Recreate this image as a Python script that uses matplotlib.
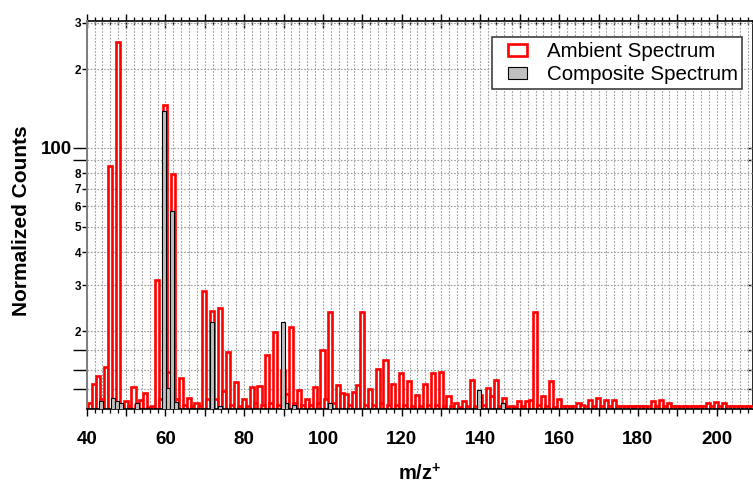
import numpy as np
import matplotlib
matplotlib.use('Agg')
import matplotlib.pyplot as plt
from matplotlib.ticker import FixedLocator, FixedFormatter, NullFormatter
from matplotlib.patches import Rectangle

plt.rcParams['font.family'] = ['Liberation Sans', 'DejaVu Sans']
plt.rcParams['font.weight'] = 'bold'
plt.rcParams['mathtext.fontset'] = 'custom'
plt.rcParams['mathtext.rm'] = 'Liberation Sans'
plt.rcParams['mathtext.bf'] = 'Liberation Sans:bold'

# ---------------- data ----------------
mz = list(range(40, 210))

ambient = [
    10.5, 10.6, 12.6, 13.5, 11.0, 14.6, 85.4, 10.8, 253.0, 10.5,   # 40-49
    10.8, 10.4, 12.3, 10.5, 10.9, 11.6, 10.3, 10.4, 31.4, 11.0,    # 50-59
    145.5, 14.0, 79.6, 11.0, 13.3, 10.5, 11.1, 10.4, 10.6, 10.4,   # 60-69
    28.5, 11.0, 23.9, 11.0, 24.5, 11.8, 16.6, 10.5, 12.8, 10.4,    # 70-79
    11.0, 10.4, 12.3, 10.6, 12.4, 10.5, 16.2, 10.6, 19.8, 10.5,    # 80-89
    14.2, 11.5, 20.7, 10.6, 11.9, 10.5, 11.0, 10.5, 12.2, 10.6,    # 90-99
    16.9, 11.0, 23.6, 10.6, 12.5, 11.6, 11.5, 10.5, 11.7, 12.5,    # 100-109
    23.6, 10.5, 12.0, 10.5, 14.4, 10.6, 15.5, 10.5, 12.6, 10.5,    # 110-119
    13.9, 10.5, 12.9, 10.4, 11.4, 10.4, 12.6, 10.5, 13.9, 10.5,    # 120-129
    14.0, 10.4, 11.3, 10.4, 10.6, 10.3, 10.8, 10.4, 13.0, 10.4,    # 130-139
    11.4, 10.5, 12.1, 11.3, 13.0, 10.4, 11.1, 10.3, 10.4, 10.3,    # 140-149
    10.8, 10.4, 10.8, 10.9, 23.6, 10.5, 11.3, 10.4, 12.9, 10.3,    # 150-159
    11.0, 10.4, 10.4, 10.4, 10.4, 10.6, 10.5, 10.4, 10.9, 10.4,    # 160-169
    11.1, 10.4, 10.9, 10.4, 10.9, 10.4, 10.4, 10.4, 10.4, 10.4,    # 170-179
    10.4, 10.4, 10.4, 10.4, 10.8, 10.4, 10.9, 10.4, 10.6, 10.4,    # 180-189
    10.4, 10.4, 10.4, 10.4, 10.4, 10.4, 10.4, 10.4, 10.6, 10.4,    # 190-199
    10.7, 10.4, 10.6, 10.4, 10.4, 10.4, 10.4, 10.4, 10.4, 10.4,    # 200-209
]

composite = [
    10.0, 10.0, 10.0, 10.0, 10.8, 10.0, 10.0, 11.1, 10.8, 10.6,    # 40-49
    10.0, 10.0, 10.0, 10.6, 10.0, 10.0, 10.0, 10.0, 10.0, 10.0,    # 50-59
    138.0, 12.1, 57.5, 10.7, 10.0, 10.0, 10.0, 10.0, 10.0, 10.0,   # 60-69
    10.0, 10.0, 21.7, 10.0, 10.4, 10.0, 10.0, 10.0, 10.0, 10.0,    # 70-79
    10.0, 10.0, 10.0, 10.0, 10.0, 10.0, 10.0, 10.0, 10.0, 10.0,    # 80-89
    21.7, 10.6, 10.0, 10.5, 10.0, 10.0, 10.0, 10.0, 10.0, 10.0,    # 90-99
    10.0, 10.0, 10.6, 10.0, 10.0, 10.0, 10.0, 10.0, 10.0, 10.0,    # 100-109
    10.0, 10.0, 10.0, 10.0, 10.0, 10.0, 10.0, 10.0, 10.0, 10.0,    # 110-119
    10.0, 10.0, 10.0, 10.0, 10.0, 10.0, 10.0, 10.0, 10.0, 10.0,    # 120-129
    10.0, 10.0, 10.0, 10.0, 10.0, 10.0, 10.0, 10.0, 10.0, 10.0,    # 130-139
    11.9, 10.0, 10.0, 10.0, 10.0, 10.0, 10.6, 10.0, 10.0, 10.0,    # 140-149
    10.0, 10.0, 10.0, 10.0, 10.0, 10.0, 10.0, 10.0, 10.0, 10.0,    # 150-159
    10.0, 10.0, 10.0, 10.0, 10.0, 10.0, 10.0, 10.0, 10.0, 10.0,    # 160-169
    10.0, 10.0, 10.0, 10.0, 10.0, 10.0, 10.0, 10.0, 10.0, 10.0,    # 170-179
    10.0, 10.0, 10.0, 10.0, 10.0, 10.0, 10.0, 10.0, 10.0, 10.0,    # 180-189
    10.0, 10.0, 10.0, 10.0, 10.0, 10.0, 10.0, 10.0, 10.0, 10.0,    # 190-199
    10.0, 10.0, 10.0, 10.0, 10.0, 10.0, 10.0, 10.0, 10.0, 10.0,    # 200-209
]

x_major = [40, 50, 60, 70, 80, 90, 100, 110, 120, 130, 140, 150, 160, 170, 180, 190, 200]
x_major_labels = ['40', '', '60', '', '80', '', '100', '', '120', '', '140', '',
                  '160', '', '180', '', '200']
x_minor = list(range(40, 210, 2))

y_major = [12.0, 14.2, 16.9, 90, 100]
y_major_labels = ['', '', '', '', '100']
y_minor = [20, 30, 40, 50, 60, 70, 80, 200, 300]
y_minor_labels = ['2', '3', '4', '5', '6', '7', '8', '2', '3']

# ---------------- figure ----------------
W, H = 753, 483
fig = plt.figure(figsize=(W / 100, H / 100), dpi=100)
L, R, T, B = 86.7, 753.0, 21.0, 409.0
ax = fig.add_axes([L / W, 1 - B / H, (R - L) / W, (B - T) / H])
ax.set_yscale('log')

BASE = 1.0
pos = np.array(mz, dtype=float)
amb_bars = ax.bar(pos - 0.1, np.array(ambient) - BASE, bottom=BASE, width=1.05,
                  facecolor='white', edgecolor='#ff0000', linewidth=1.9,
                  label='Ambient Spectrum', zorder=2)
comp_bars = ax.bar(pos - 0.25, np.array(composite) - BASE, bottom=BASE, width=1.0,
                   facecolor='#c0c0c0', edgecolor='black', linewidth=0.8,
                   label='Composite Spectrum', zorder=3)

ax.set_xlim(40, 40 + (R - L) / 3.9375)
ax.set_ylim(10.1, 305)

# grid
ax.set_axisbelow(True)
ax.grid(True, which='both', color='#9c9c9c', linestyle=(0, (1.5, 1.5)), linewidth=0.8)

# x ticks (bottom)
ax.xaxis.set_major_locator(FixedLocator(x_major))
ax.xaxis.set_major_formatter(FixedFormatter(x_major_labels))
ax.xaxis.set_minor_locator(FixedLocator(x_minor))
ax.xaxis.set_minor_formatter(NullFormatter())
ax.tick_params(axis='x', which='major', direction='out', length=5, width=1.0,
               labelsize=13.5, pad=10.5, top=False, colors='black')
ax.tick_params(axis='x', which='minor', direction='out', length=3, width=0.9, top=False)

# y ticks (left)
ax.yaxis.set_major_locator(FixedLocator(y_major))
ax.yaxis.set_major_formatter(FixedFormatter(y_major_labels))
ax.yaxis.set_minor_locator(FixedLocator(y_minor))
ax.yaxis.set_minor_formatter(FixedFormatter(y_minor_labels))
ax.tick_params(axis='y', which='major', direction='out', length=10, width=1.0,
               labelsize=13.5, pad=0.5, right=False)
ax.tick_params(axis='y', which='minor', direction='out', length=3.6, width=1.0,
               labelsize=8.5, pad=0.5, right=False)

# spines
ax.spines['left'].set_color('#7f7f7f')
ax.spines['left'].set_linewidth(1.45)
ax.spines['bottom'].set_color('black')
ax.spines['bottom'].set_linewidth(1.2)
ax.spines['top'].set_visible(False)
ax.spines['right'].set_visible(False)

# top axis: crossing ticks
top = ax.secondary_xaxis('top')
top.xaxis.set_major_locator(FixedLocator(x_major))
top.xaxis.set_major_formatter(NullFormatter())
top.xaxis.set_minor_locator(FixedLocator(x_minor))
top.xaxis.set_minor_formatter(NullFormatter())
top.tick_params(which='major', direction='inout', length=10, width=1.0)
top.tick_params(which='minor', direction='inout', length=5.8, width=0.9)
top.spines['top'].set_linewidth(1.2)
top.spines['top'].set_color('black')

# right axis: inward ticks
right = ax.secondary_yaxis('right')
right.yaxis.set_major_locator(FixedLocator(y_major))
right.yaxis.set_major_formatter(NullFormatter())
right.yaxis.set_minor_locator(FixedLocator([20, 30]))
right.yaxis.set_minor_formatter(NullFormatter())
right.tick_params(which='both', direction='in', length=4, width=1.0)
right.spines['right'].set_linewidth(1.2)

# axis labels
ax.set_xlabel(r'm/z$^{\mathbf{+}}$', fontsize=14.5, fontweight='bold')
ax.xaxis.set_label_coords(0.5, (B - 480) / (B - T))
ax.xaxis.label.set_va('baseline')
ax.set_ylabel('Normalized Counts', fontsize=15, fontweight='bold')
ax.yaxis.set_label_coords((21.5 - L) / (R - L), (B - 221) / (B - T))
ax.yaxis.label.set_va('center')

# legend with a square frame
frame = Rectangle((491.7 / W, 1 - 89.3 / H), (742.3 - 491.7) / W, (89.3 - 36.7) / H,
                  transform=fig.transFigure, facecolor='white', edgecolor='#303030',
                  linewidth=1.1, zorder=10, clip_on=False)
ax.add_patch(frame)
leg = ax.legend(handles=[amb_bars, comp_bars], loc='upper left',
                bbox_to_anchor=(508 / W, 1 - 42 / H), bbox_transform=fig.transFigure,
                frameon=False, borderpad=0, borderaxespad=0, handlelength=0.9,
                handleheight=0.5, handletextpad=1.0, labelspacing=0.2,
                prop={'size': 14.8, 'weight': 'normal', 'family': 'Liberation Sans'})
leg.set_zorder(11)

fig.savefig('out.png', dpi=100)
